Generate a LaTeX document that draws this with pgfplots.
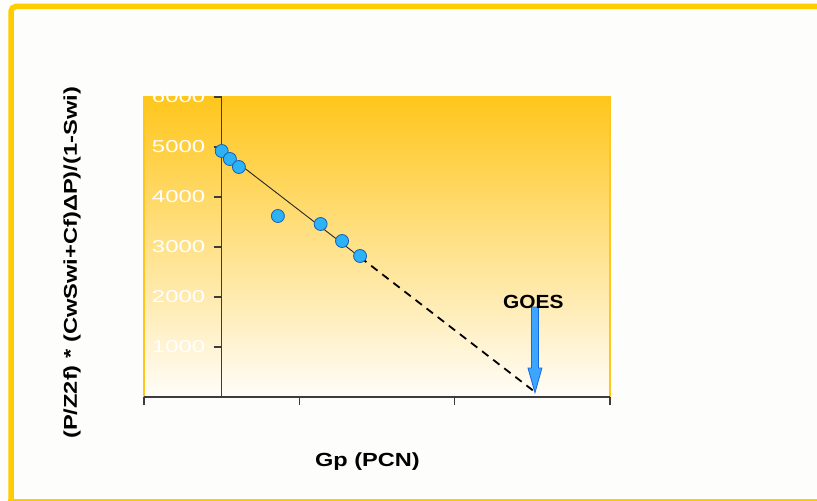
\documentclass[border=0pt]{standalone}
\usepackage{pgfplots}
\pgfplotsset{compat=1.18}
\usepackage{fontspec}
\setmainfont{Liberation Sans}
\definecolor{frameyellow}{RGB}{255,204,0}
\definecolor{gradtop}{RGB}{255,198,28}
\definecolor{gradmid}{RGB}{254,228,160}
\definecolor{gradbot}{RGB}{255,253,249}
\definecolor{bgwhite}{RGB}{253,253,251}
\definecolor{ptfill}{RGB}{45,178,245}
\definecolor{ptedge}{RGB}{20,95,185}
\definecolor{arrfill}{RGB}{60,165,255}
\definecolor{arredge}{RGB}{25,105,220}
\definecolor{axisgray}{RGB}{60,60,60}
\newcommand{\sx}[1]{\scalebox{1.39}[1]{#1}}
\begin{document}
\begin{tikzpicture}
\useasboundingbox (0,0) rectangle (817bp,501bp);
\fill[bgwhite] (0,0) rectangle (817bp,501bp);
\draw[frameyellow, line width=5.5bp, rounded corners=5bp] (11bp,-5bp) -- (11bp,494.5bp) -- (830bp,494.5bp);
\draw[frameyellow, line width=1.6bp] (8bp,1.2bp) -- (830bp,1.2bp);
\begin{axis}[
  at={(144bp,104bp)}, anchor=south west,
  scale only axis, width=466bp, height=300bp,
  xmin=-0.5, xmax=2.5, ymin=0, ymax=6000,
  axis x line*=bottom, axis y line*=middle,
  xtick={-0.5,0.5,1.5,2.5}, xticklabels={},
  ytick={0,1000,2000,3000,4000,5000,6000},
  yticklabels={\sx{0},\sx{1000},\sx{2000},\sx{3000},\sx{4000},\sx{5000},\sx{6000}},
  tick align=outside,
  major tick length=8bp,
  axis line style={draw=axisgray, line width=1.2bp},
  xtick style={draw=axisgray, line width=1.2bp},
  ytick style={draw=axisgray, line width=1.2bp},
  yticklabel style={text=white, font=\fontsize{17.2bp}{20bp}\selectfont, anchor=east, xshift=-5bp},
  axis background/.style={top color=gradtop, middle color=gradmid, bottom color=gradbot, draw=gradtop, line width=1.2bp},
  clip=false,
  xlabel={\scalebox{1.24}[1]{Gp (PCN)}},
  every axis x label/.style={at={(rel axis cs:0.4796,-0.216)}, anchor=center, font=\fontsize{19bp}{22bp}\selectfont\bfseries},
  ylabel={\scalebox{1.28}[1]{(P/Z2f) * (CwSwi+Cf)ΔP)/(1-Swi)}},
  every axis y label/.style={at={(rel axis cs:-0.1545,0.447)}, rotate=90, anchor=center, font=\fontsize{18.5bp}{22bp}\selectfont\bfseries},
]
% fitted line (solid part)
\addplot[black!85, line width=0.9bp] coordinates {(0,4930) (0.891,2796)};
% extrapolation (dashed)
\addplot[black, line width=1.8bp, dash pattern=on 8bp off 6bp] coordinates {(0.891,2796) (2.017,100)};
% data points
\addplot[only marks, mark=*, mark size=6.5bp, mark options={fill=ptfill, draw=ptedge, line width=0.8bp}] coordinates {
(0.000,4920) (0.053,4760) (0.111,4600) (0.362,3620) (0.637,3460) (0.775,3120) (0.891,2820)};
% GOES arrow
\filldraw[fill=arrfill, draw=arredge, line width=0.8bp]
  (axis cs:{2.017-0.0225},1800) -- (axis cs:{2.017+0.0225},1800) -- (axis cs:{2.017+0.0225},580)
  -- (axis cs:{2.017+0.045},580) -- (axis cs:2.017,86) -- (axis cs:{2.017-0.045},580)
  -- (axis cs:{2.017-0.0225},580) -- cycle;
\node[font=\fontsize{19bp}{22bp}\selectfont\bfseries, anchor=center] at (axis cs:2.007,1900) {\scalebox{1.1}[1]{GOES}};
\end{axis}
\end{tikzpicture}
\end{document}
